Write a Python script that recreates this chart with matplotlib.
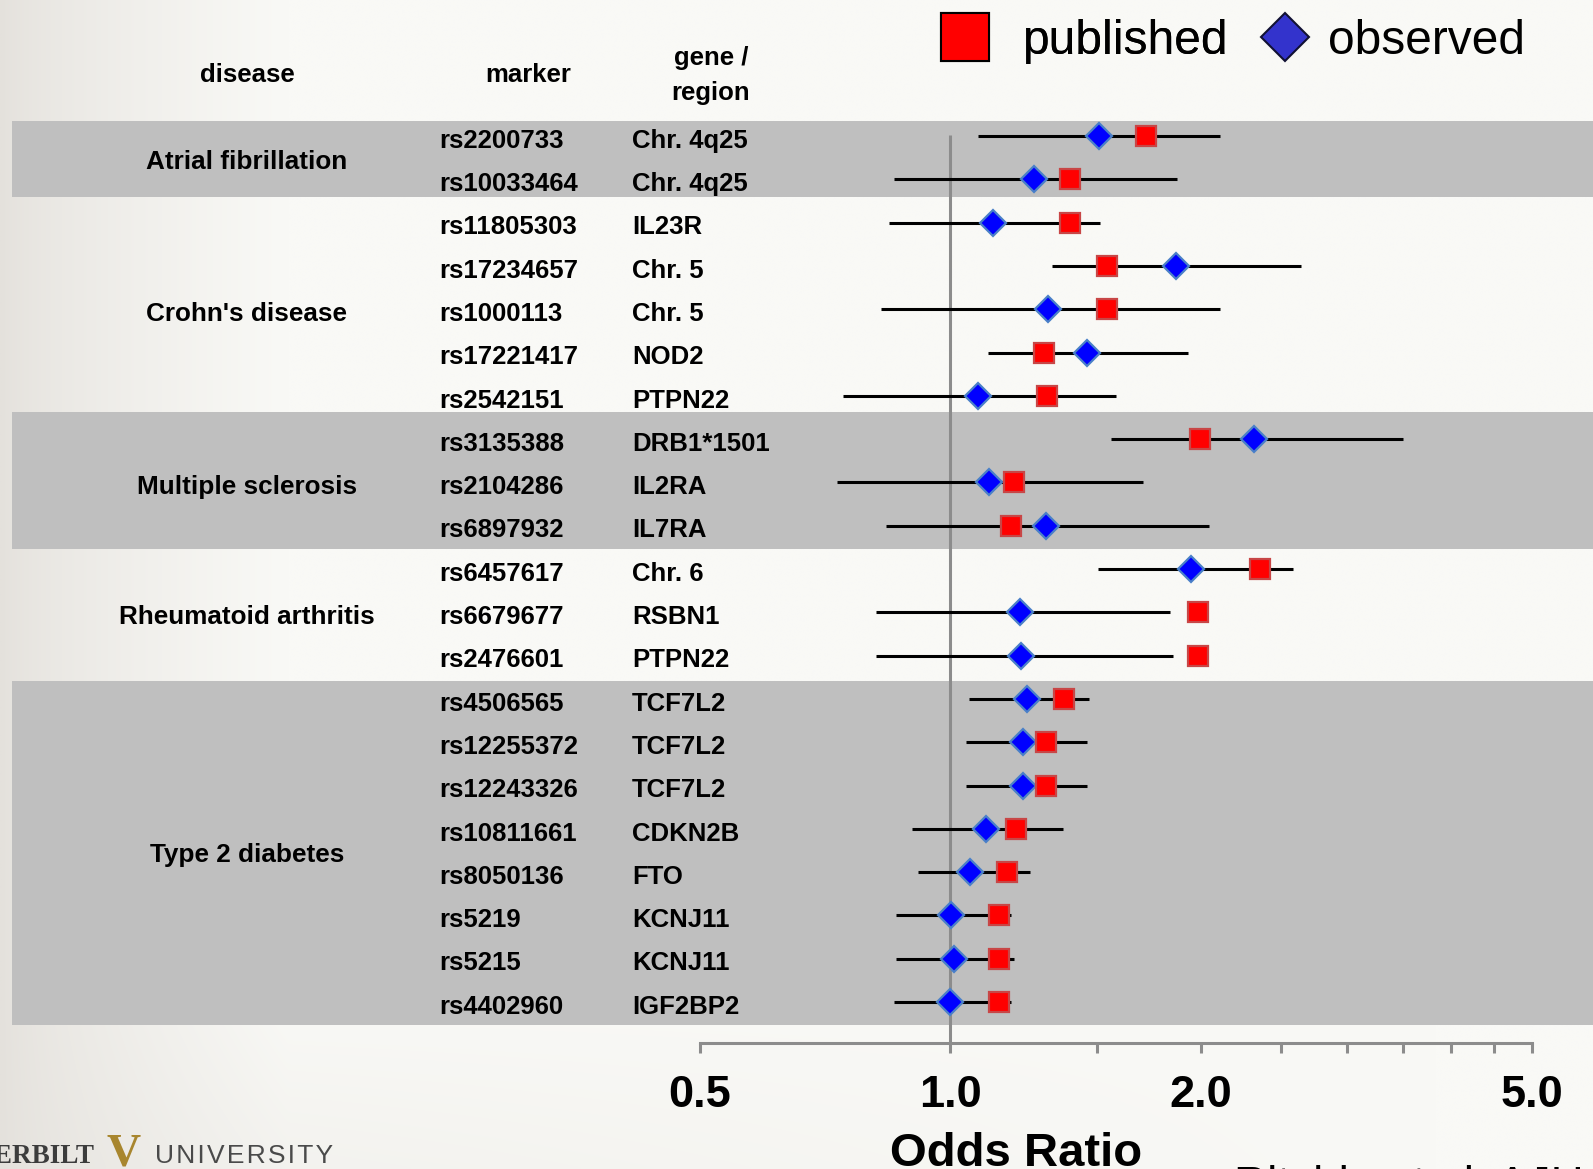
import numpy as np
import matplotlib
matplotlib.use("Agg")
import matplotlib.pyplot as plt
from matplotlib.lines import Line2D
from matplotlib.transforms import blended_transform_factory

# ---------------- data ----------------
diseases = ["Atrial fibrillation", "Crohn's disease", "Multiple sclerosis",
            "Rheumatoid arthritis", "Type 2 diabetes"]
disease_counts = [2, 5, 3, 3, 8]

markers = ["rs2200733", "rs10033464", "rs11805303", "rs17234657", "rs1000113",
           "rs17221417", "rs2542151", "rs3135388", "rs2104286", "rs6897932",
           "rs6457617", "rs6679677", "rs2476601", "rs4506565", "rs12255372",
           "rs12243326", "rs10811661", "rs8050136", "rs5219", "rs5215", "rs4402960"]
genes = ["Chr. 4q25", "Chr. 4q25", "IL23R", "Chr. 5", "Chr. 5", "NOD2", "PTPN22",
         "DRB1*1501", "IL2RA", "IL7RA", "Chr. 6", "RSBN1", "PTPN22", "TCF7L2",
         "TCF7L2", "TCF7L2", "CDKN2B", "FTO", "KCNJ11", "KCNJ11", "IGF2BP2"]

published = [1.72, 1.395, 1.395, 1.543, 1.543, 1.296, 1.307, 1.995, 1.194, 1.185,
             2.356, 1.987, 1.987, 1.371, 1.303, 1.303, 1.201, 1.171, 1.145, 1.145, 1.145]
observed = [1.509, 1.26, 1.126, 1.869, 1.31, 1.459, 1.082, 2.32, 1.115, 1.303,
            1.949, 1.215, 1.217, 1.239, 1.225, 1.225, 1.104, 1.058, 1.003, 1.011, 1.0]
ci_low = [1.082, 0.856, 0.845, 1.326, 0.826, 1.11, 0.744, 1.561, 0.732, 0.837,
          1.505, 0.814, 0.814, 1.055, 1.046, 1.046, 0.901, 0.916, 0.861, 0.861, 0.856]
ci_high = [2.11, 1.874, 1.513, 2.64, 2.11, 1.933, 1.583, 3.50, 1.704, 2.05,
           2.583, 1.837, 1.851, 1.471, 1.459, 1.459, 1.367, 1.249, 1.184, 1.194, 1.184]

major_ticks = [0.5, 1.0, 2.0, 5.0]
major_labels = ["0.5", "1.0", "2.0", "5.0"]
minor_ticks = [1.5, 2.5, 3.0, 3.5, 4.0, 4.5]

# ---------------- layout ----------------
W, H = 1593, 1169
DPI = 100
FONT = "Liberation Sans"

def fx(px):
    return px / W

def fy(py):
    return 1 - py / H

fig = plt.figure(figsize=(W / DPI, H / DPI), dpi=DPI)

# background gradient
bg = fig.add_axes([0, 0, 1, 1], zorder=-5)
xs = np.linspace(0, 1, 400)
ys = np.linspace(0, 1, 300)
X, Y = np.meshgrid(xs, ys)
edge = np.array([228, 225, 220]) / 255.0
center = np.array([249, 249, 246]) / 255.0
t = np.clip(X / 0.18, 0, 1) ** 0.7
t = t * (1 - 0.35 * np.clip((Y - 0.85) / 0.15, 0, 1) * np.clip(1 - X / 0.9, 0, 1))
img = edge[None, None, :] * (1 - t[..., None]) + center[None, None, :] * t[..., None]
bg.imshow(img, aspect="auto", extent=[0, 1, 1, 0], interpolation="bilinear")
bg.axis("off")

ax = fig.add_axes([0, 0, 1, 1])
ax.patch.set_alpha(0)

x1_px = 950.0
px_per_log2 = 250.5
ax.set_xscale("log")
ax.set_xlim(2 ** (-x1_px / px_per_log2), 2 ** ((W - x1_px) / px_per_log2))
row0_px = 136.0
row_h = 43.3
ax.set_ylim((H - row0_px) / row_h, -row0_px / row_h)

n = len(markers)
rows = np.arange(n)

# bands
band_edges = [(-0.35, 1.40), (6.37, 9.53), (12.58, 20.52)]
for y0, y1 in band_edges:
    ax.axhspan(y0, y1, xmin=12 / W, xmax=1.0, color="#bfbfbf", lw=0, zorder=0)

axis_row = (1043 - row0_px) / row_h

# reference line
ax.vlines(1.0, -0.02, axis_row, color="#8c8c8c", lw=2.2, zorder=1)

# CI lines and points
ax.hlines(rows, ci_low, ci_high, color="black", lw=2.2, zorder=2)
ax.plot(observed, rows, ls="none", marker="D", ms=13.5, mfc="#0000ff",
        mec="#4a80c8", mew=1.6, zorder=3)
ax.plot(published, rows, ls="none", marker="s", ms=14, mfc="#ff0000",
        mec="#c84646", mew=1.6, zorder=4)

# axis
for s in ["top", "left", "right"]:
    ax.spines[s].set_visible(False)
ax.spines["bottom"].set_position(("data", axis_row))
ax.spines["bottom"].set_bounds(0.5, 5.0)
ax.spines["bottom"].set_color("#8c8c8c")
ax.spines["bottom"].set_linewidth(2.2)
ax.set_yticks([])
ax.set_xticks(major_ticks)
ax.set_xticklabels(major_labels)
ax.set_xticks(minor_ticks, minor=True)
ax.xaxis.set_minor_formatter(matplotlib.ticker.NullFormatter())
ax.tick_params(axis="x", which="both", direction="out", length=7.2, width=2.2,
               color="#8c8c8c", pad=16)
for lab in ax.get_xticklabels():
    lab.set_fontfamily(FONT)
    lab.set_fontweight("bold")
    lab.set_fontsize(32.5)

trans = blended_transform_factory(fig.transFigure, ax.transData)
LFS = 18.5
yoff = 0.11
for i in range(n):
    ax.text(fx(439), rows[i] + yoff, markers[i], transform=trans, ha="left",
            va="center", fontsize=LFS, fontweight="bold", family=FONT)
    ax.text(fx(632), rows[i] + yoff, genes[i], transform=trans, ha="left",
            va="center", fontsize=LFS, fontweight="bold", family=FONT)

start = 0
for d, c in zip(diseases, disease_counts):
    yc = np.mean(rows[start:start + c])
    ax.text(fx(247), yc + yoff, d, transform=trans, ha="center", va="center",
            fontsize=18.8, fontweight="bold", family=FONT)
    start += c

# headers
fig.text(fx(247), fy(75), "disease", ha="center", va="center", fontsize=LFS,
         fontweight="bold", family=FONT)
fig.text(fx(528), fy(75), "marker", ha="center", va="center", fontsize=LFS,
         fontweight="bold", family=FONT)
fig.text(fx(711), fy(58), "gene /", ha="center", va="center", fontsize=LFS,
         fontweight="bold", family=FONT)
fig.text(fx(711), fy(93), "region", ha="center", va="center", fontsize=LFS,
         fontweight="bold", family=FONT)

# axis title
fig.text(fx(1016), fy(1166), "Odds Ratio", ha="center", va="baseline",
         fontsize=34, fontweight="bold", family=FONT)

# citation (mostly cut off)
fig.text(fx(1234), fy(1199), "Ritchie et al. AJHG 2010", ha="left", va="baseline",
         fontsize=33, family=FONT, color="black")

# legend (two single-entry legends for exact spacing)
h_pub = Line2D([], [], ls="none", marker="s", ms=34, mfc="#ff0000", mec="black", mew=1.5)
h_obs = Line2D([], [], ls="none", marker="D", ms=24, mfc="#3333cc", mec="#111133", mew=1.5)
leg1 = fig.legend([h_pub], ["published"], loc="upper left",
                  bbox_to_anchor=(fx(912), fy(-5)), frameon=False,
                  borderpad=0, handlelength=1.2, handletextpad=0.62,
                  prop={"family": FONT, "size": 34.5})
leg2 = fig.legend([h_obs], ["observed"], loc="upper left",
                  bbox_to_anchor=(fx(1232), fy(-5)), frameon=False,
                  borderpad=0, handlelength=1.2, handletextpad=0.3,
                  prop={"family": FONT, "size": 34.5})
fig.add_artist(leg1)

# Vanderbilt logo text
fig.text(fx(95), fy(1163), "VANDERBILT", ha="right", va="baseline", fontsize=19.5,
         family="Liberation Serif", fontweight="bold", color="#3c3c3c")
fig.text(fx(124), fy(1166), "V", ha="center", va="baseline", fontsize=34,
         family="Liberation Serif", fontweight="bold", color="#a8862e")
fig.text(fx(155), fy(1163), "\u200a".join("UNIVERSITY"), ha="left", va="baseline",
         fontsize=19, family=[FONT, "DejaVu Sans"], color="#4a4a4a")

fig.savefig("out.png", dpi=DPI)
